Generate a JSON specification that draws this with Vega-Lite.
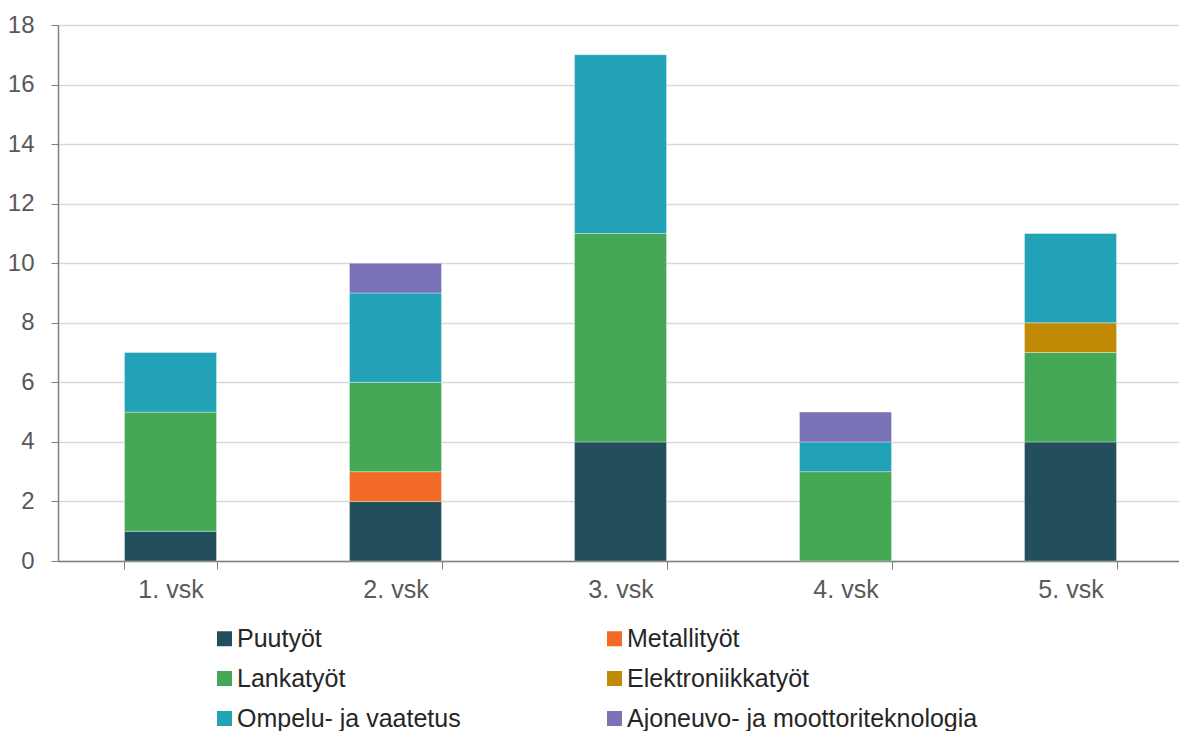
{
  "$schema": "https://vega.github.io/schema/vega-lite/v6.json",
  "width": 1125,
  "height": 536,
  "autosize": {"type": "none"},
  "padding": {"left": 58, "top": 25, "right": 0, "bottom": 170},
  "background": "white",
  "config": {
    "view": {"stroke": null},
    "font": "Liberation Sans"
  },
  "data": {
    "values": [
      {"vsk": "1. vsk", "ala": "Puutyöt", "n": 1},
      {"vsk": "1. vsk", "ala": "Lankatyöt", "n": 4},
      {"vsk": "1. vsk", "ala": "Ompelu- ja vaatetus", "n": 2},
      {"vsk": "2. vsk", "ala": "Puutyöt", "n": 2},
      {"vsk": "2. vsk", "ala": "Metallityöt", "n": 1},
      {"vsk": "2. vsk", "ala": "Lankatyöt", "n": 3},
      {"vsk": "2. vsk", "ala": "Ompelu- ja vaatetus", "n": 3},
      {"vsk": "2. vsk", "ala": "Ajoneuvo- ja moottoriteknologia", "n": 1},
      {"vsk": "3. vsk", "ala": "Puutyöt", "n": 4},
      {"vsk": "3. vsk", "ala": "Lankatyöt", "n": 7},
      {"vsk": "3. vsk", "ala": "Ompelu- ja vaatetus", "n": 6},
      {"vsk": "4. vsk", "ala": "Lankatyöt", "n": 3},
      {"vsk": "4. vsk", "ala": "Ompelu- ja vaatetus", "n": 1},
      {"vsk": "4. vsk", "ala": "Ajoneuvo- ja moottoriteknologia", "n": 1},
      {"vsk": "5. vsk", "ala": "Puutyöt", "n": 4},
      {"vsk": "5. vsk", "ala": "Lankatyöt", "n": 3},
      {"vsk": "5. vsk", "ala": "Elektroniikkatyöt", "n": 1},
      {"vsk": "5. vsk", "ala": "Ompelu- ja vaatetus", "n": 3}
    ]
  },
  "transform": [
    {"lookup": "ala", "from": {"data": {"values": [
      {"ala": "Puutyöt", "o": 1},
      {"ala": "Metallityöt", "o": 2},
      {"ala": "Lankatyöt", "o": 3},
      {"ala": "Elektroniikkatyöt", "o": 4},
      {"ala": "Ompelu- ja vaatetus", "o": 5},
      {"ala": "Ajoneuvo- ja moottoriteknologia", "o": 6}
    ]}, "key": "ala", "fields": ["o"]}}
  ],
  "mark": {"type": "bar", "stroke": "white", "strokeWidth": 0.6, "strokeOpacity": 0.6},
  "encoding": {
    "x": {
      "field": "vsk", "type": "nominal", "sort": null,
      "scale": {"paddingInner": 0.591, "paddingOuter": 0.2955},
      "axis": {
        "title": null, "labelAngle": 0, "labelFontSize": 25, "labelColor": "#595959",
        "labelPadding": 8, "tickBand": "extent", "tickSize": 8, "tickColor": "#7f7f7f",
        "domainColor": "#7f7f7f", "domainWidth": 1.5, "grid": false
      }
    },
    "y": {
      "field": "n", "type": "quantitative", "aggregate": "sum",
      "scale": {"domain": [0, 18], "nice": false},
      "axis": {
        "title": null, "values": [0, 2, 4, 6, 8, 10, 12, 14, 16, 18],
        "labelFontSize": 24, "labelColor": "#595959", "labelPadding": 17,
        "tickSize": 7, "tickColor": "#7f7f7f", "domainColor": "#7f7f7f", "domainWidth": 1.5,
        "gridColor": "#d9d9d9", "gridWidth": 1.5
      }
    },
    "color": {
      "field": "ala", "type": "nominal",
      "scale": {
        "domain": ["Puutyöt", "Metallityöt", "Lankatyöt", "Elektroniikkatyöt", "Ompelu- ja vaatetus", "Ajoneuvo- ja moottoriteknologia"],
        "range": ["#234E5B", "#F26A25", "#45A856", "#C18A05", "#22A2B7", "#7A72B6"]
      },
      "legend": {
        "title": null, "orient": "none", "direction": "horizontal", "legendX": 154, "legendY": 601,
        "columns": 2, "columnPadding": 141, "rowPadding": 14,
        "symbolType": "square", "symbolSize": 225, "symbolStrokeWidth": 0,
        "labelFontSize": 25, "labelColor": "#262626", "labelOffset": 0, "labelLimit": 500
      }
    },
    "order": {"field": "o", "type": "quantitative", "sort": "ascending"}
  }
}
